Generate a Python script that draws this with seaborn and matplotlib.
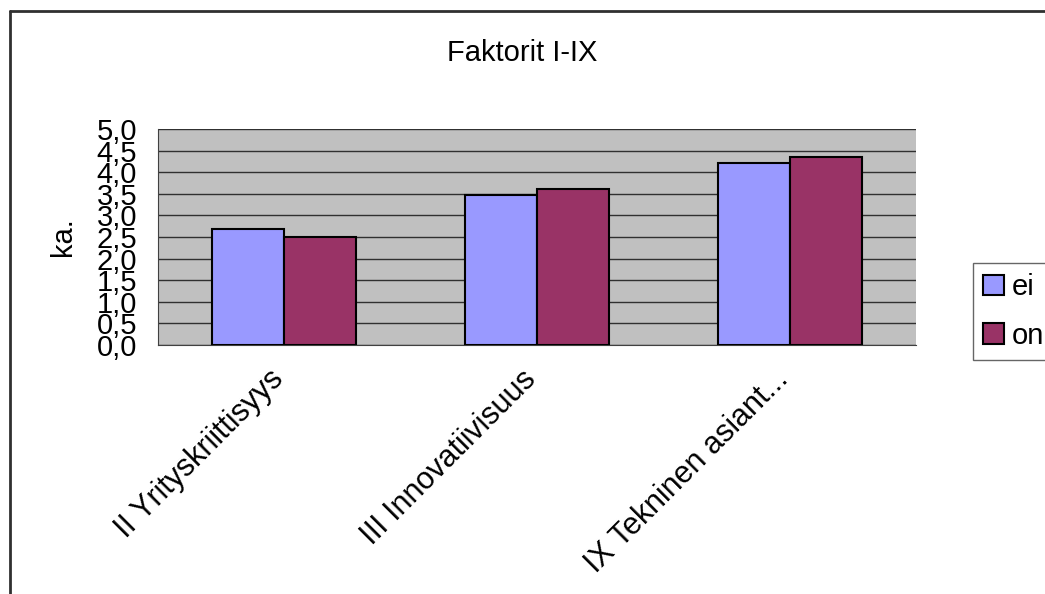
import matplotlib
matplotlib.use("Agg")
import matplotlib.pyplot as plt
import matplotlib.ticker as mticker
import matplotlib.transforms as mtransforms
from matplotlib.lines import Line2D
import seaborn as sns
import pandas as pd

categories = ["II Yrityskriittisyys", "III Innovatiivisuus", "IX Tekninen asiant..."]
series_names = ["ei", "on"]
ei_values = [2.69, 3.47, 4.22]
on_values = [2.49, 3.60, 4.35]
y_ticks = [0.0, 0.5, 1.0, 1.5, 2.0, 2.5, 3.0, 3.5, 4.0, 4.5, 5.0]
title = "Faktorit I-IX"
y_label = "ka."

df = pd.DataFrame({
    "kategoria": categories * 2,
    "sarja": [series_names[0]] * 3 + [series_names[1]] * 3,
    "arvo": ei_values + on_values,
})

sns.set_style("white")
plt.rcParams['font.family'] = ['Liberation Sans', 'DejaVu Sans']
plt.rcParams['text.color'] = 'black'
plt.rcParams['xtick.color'] = 'black'
plt.rcParams['ytick.color'] = 'black'
plt.rcParams['axes.labelcolor'] = 'black'

W, H = 1045, 594
fig = plt.figure(figsize=(W / 100, H / 100), dpi=100)
ax = fig.add_axes([158 / W, 1 - 345 / H, (916 - 158) / W, (345 - 129) / H])
ax.set_facecolor("#C0C0C0")

palette = {"ei": "#9999FF", "on": "#993366"}
sns.barplot(data=df, x="kategoria", y="arvo", hue="sarja", palette=palette,
            width=0.57, edgecolor="black", linewidth=1.5, saturation=1,
            ax=ax, legend=True, zorder=3)

ax.set_xlim(-0.5, 2.5)
ax.set_ylim(0, 5.0)
ax.set_yticks(y_ticks)
ax.yaxis.set_major_formatter(mticker.FuncFormatter(lambda v, p: f"{v:.1f}".replace(".", ",")))
ax.grid(axis="y", color="#303030", linewidth=1.0, zorder=1)
ax.set_axisbelow(True)
for s in ["top", "right"]:
    ax.spines[s].set_visible(False)
ax.spines["left"].set_color("#404040")
ax.spines["bottom"].set_color("#404040")
ax.tick_params(axis="y", which="major", direction="out", length=8, width=1,
               color="#404040", labelsize=21, pad=7)
ax.tick_params(axis="x", which="major", length=0, labelsize=22, pad=14)
ax.set_xticks([-0.5, 0.5, 1.5, 2.5], minor=True)
ax.tick_params(axis="x", which="minor", direction="out", length=7, width=1, color="#404040")
offset = mtransforms.ScaledTranslation(-16 / 100, 0, fig.dpi_scale_trans)
for lab in ax.get_xticklabels():
    lab.set_rotation(45)
    lab.set_ha("right")
    lab.set_va("top")
    lab.set_rotation_mode("anchor")
    lab.set_transform(lab.get_transform() + offset)
ax.set_xlabel("")
ax.set_ylabel(y_label, fontsize=21, va="center")
ax.yaxis.set_label_coords((63 - 158) / 758, 0.5)

fig.text(522 / W, 1 - 53 / H, title, ha="center", va="center", fontsize=21)

handles, labels = ax.get_legend_handles_labels()
ax.legend_.remove()
leg = fig.legend(handles, labels, loc="upper left",
                 bbox_to_anchor=(973 / W, 1 - 263 / H), bbox_transform=fig.transFigure,
                 borderaxespad=0, fontsize=21, frameon=True, fancybox=False,
                 edgecolor="#404040", handlelength=0.72, handleheight=0.72,
                 handletextpad=0.25, labelspacing=0.7, borderpad=0.35)
leg.get_frame().set_linewidth(1.0)

fig.add_artist(Line2D([10 / W, 10 / W], [0, 1 - 11 / H], color="#303030", linewidth=2,
                      transform=fig.transFigure))
fig.add_artist(Line2D([10 / W, 1], [1 - 11 / H, 1 - 11 / H], color="#303030", linewidth=2,
                      transform=fig.transFigure))

fig.savefig("out.png", dpi=100)
